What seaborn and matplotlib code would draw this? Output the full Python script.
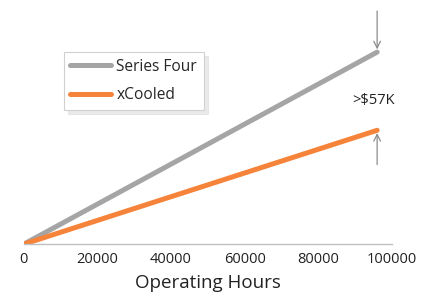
import pandas as pd
import matplotlib.pyplot as plt
import seaborn as sns

# date
hours = [0, 96000]
series_four = [0, 140000]
xcooled = [0, 83000]
series_names = ["Series Four", "xCooled"]
series_colors = ["#a5a5a5", "#f5843a"]
gap_label = ">$57K"
x_ticks = [0, 20000, 40000, 60000, 80000, 100000]

df = pd.DataFrame({
    "hours": hours * 2,
    "cost": series_four + xcooled,
    "series": [series_names[0]] * len(hours) + [series_names[1]] * len(hours),
})

sns.set_theme(style="white")
plt.rcParams["font.family"] = ["Open Sans", "DejaVu Sans"]

fig = plt.figure(figsize=(4.33, 2.97), dpi=100)
ax = fig.add_axes([0.055, 0.178, 0.85, 0.822])

sns.lineplot(data=df, x="hours", y="cost", hue="series",
             palette=series_colors, linewidth=3.6, ax=ax,
             solid_capstyle="round")

ax.set_xlim(0, 100000)
ax.set_ylim(0, 178000)
ax.set_xticks(x_ticks)
ax.set_xticklabels([str(t) for t in x_ticks], fontsize=10.5, color="#222222")
ax.set_yticks([])
ax.set_ylabel("")
ax.set_xlabel("Operating Hours", fontsize=13.5, color="#222222", labelpad=5)

for s in ["left", "right", "top"]:
    ax.spines[s].set_visible(False)
ax.spines["bottom"].set_color("#c0c0c0")
ax.spines["bottom"].set_linewidth(1)
ax.tick_params(axis="x", length=4, color="#c0c0c0", direction="out", pad=2)

# sageti pentru diferenta
arrow = dict(arrowstyle="->", color="#8c8c8c", lw=0.9)
ax.annotate("", xy=(hours[-1], series_four[-1]), xytext=(hours[-1], 172000),
            arrowprops=arrow)
ax.annotate("", xy=(hours[-1], xcooled[-1]), xytext=(hours[-1], 56000),
            arrowprops=arrow)
ax.text(95000, 105000, gap_label, ha="center", va="center",
        fontsize=10.5, color="#222222")

leg = ax.legend(loc="upper left", bbox_to_anchor=(0.109, 0.787),
                borderaxespad=0, frameon=True, fancybox=False, fontsize=11.2,
                handlelength=2.6, handletextpad=0.35, borderpad=0.42,
                labelspacing=0.8,
                shadow={"color": "#dcdcdc", "alpha": 0.6, "ox": 3, "oy": -3})
leg.get_frame().set_edgecolor("#d0d0d0")
leg.get_frame().set_linewidth(0.8)
leg.set_title(None)

fig.savefig("out.png", dpi=100)
